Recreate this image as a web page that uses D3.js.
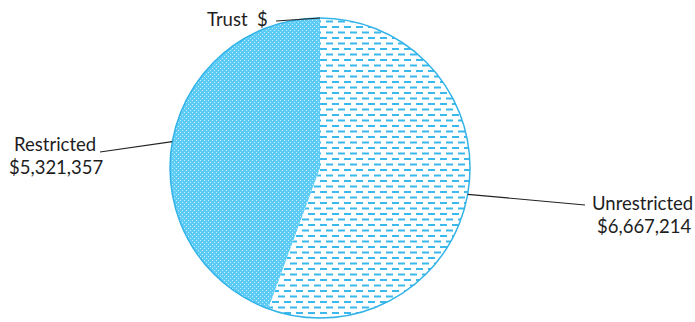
<!DOCTYPE html>
<html>
<head>
<meta charset="utf-8">
<script src="https://cdn.jsdelivr.net/npm/d3@7"></script>
<style>
  body { margin: 0; background: #fff; }
  text { font-family: Lato, "Open Sans", sans-serif; fill: #1e1e1e; }
</style>
</head>
<body>
<div id="chart"></div>
<script>
const categories = ["Trust", "Unrestricted", "Restricted"];
const values = [0, 6667214, 5321357];
const labelLines = [["Trust  $"], ["Unrestricted", "$6,667,214"], ["Restricted", "$5,321,357"]];

const width = 695, height = 322;
const cx = 320, cy = 168, radius = 150;

const svg = d3.select("#chart").append("svg")
  .attr("width", width)
  .attr("height", height);

const defs = svg.append("defs");

// dashed horizontal pattern
const dash = defs.append("pattern")
  .attr("id", "dash")
  .attr("patternUnits", "userSpaceOnUse")
  .attr("width", 12).attr("height", 11);
dash.append("rect").attr("width", 12).attr("height", 11).attr("fill", "#fff");
dash.append("rect").attr("x", 0).attr("y", 1).attr("width", 7).attr("height", 2).attr("fill", "#3cb9ec");
dash.append("rect").attr("x", 6).attr("y", 6.5).attr("width", 7).attr("height", 2).attr("fill", "#3cb9ec");
dash.append("rect").attr("x", -6).attr("y", 6.5).attr("width", 7).attr("height", 2).attr("fill", "#3cb9ec");

// dotted fill pattern
const dots = defs.append("pattern")
  .attr("id", "dots")
  .attr("patternUnits", "userSpaceOnUse")
  .attr("width", 4).attr("height", 4);
dots.append("rect").attr("width", 4).attr("height", 4).attr("fill", "#5ccbf6");
dots.append("rect").attr("x", 0).attr("y", 0).attr("width", 1).attr("height", 1).attr("fill", "#c4ecfc");
dots.append("rect").attr("x", 2).attr("y", 2).attr("width", 1).attr("height", 1).attr("fill", "#c4ecfc");

const fills = ["url(#dots)", "url(#dash)", "url(#dots)"];

const pie = d3.pie().sort(null).value(d => d)(values);
const arc = d3.arc().innerRadius(0).outerRadius(radius);

const g = svg.append("g").attr("transform", `translate(${cx},${cy})`);

g.selectAll("path.slice")
  .data(pie)
  .enter()
  .append("path")
  .attr("class", "slice")
  .attr("d", arc)
  .attr("fill", (d, i) => fills[i])
  .attr("stroke", "none");

// outline
g.append("circle")
  .attr("r", radius)
  .attr("fill", "none")
  .attr("stroke", "#33b3e8")
  .attr("stroke-width", 1.5);

// label layout
const labelPos = [
  { x: 207, y: 26, lx: 276, ly: 21, anchor: "start", x2: 207 },
  { x: 592, y: 210, lx: 585, ly: 205, anchor: "start", x2: 597 },
  { x: 14, y: 151, lx: 100, ly: 152, anchor: "start", x2: 9 }
];

pie.forEach((d, i) => {
  const mid = (d.startAngle + d.endAngle) / 2;
  const ex = cx + Math.sin(mid) * radius;
  const ey = cy - Math.cos(mid) * radius;
  const p = labelPos[i];
  svg.append("line")
    .attr("x1", ex).attr("y1", ey)
    .attr("x2", p.lx).attr("y2", p.ly)
    .attr("stroke", "#222").attr("stroke-width", 1.2);
  const t = svg.append("text")
    .attr("x", p.x).attr("y", p.y)
    .attr("font-size", 18.5)
    .attr("text-anchor", p.anchor);
  labelLines[i].forEach((line, j) => {
    t.append("tspan")
      .attr("x", j === 0 ? p.x : p.x2)
      .attr("dy", j === 0 ? 0 : 23)
      .style("white-space", "pre")
      .text(line);
  });
});
</script>
</body>
</html>
